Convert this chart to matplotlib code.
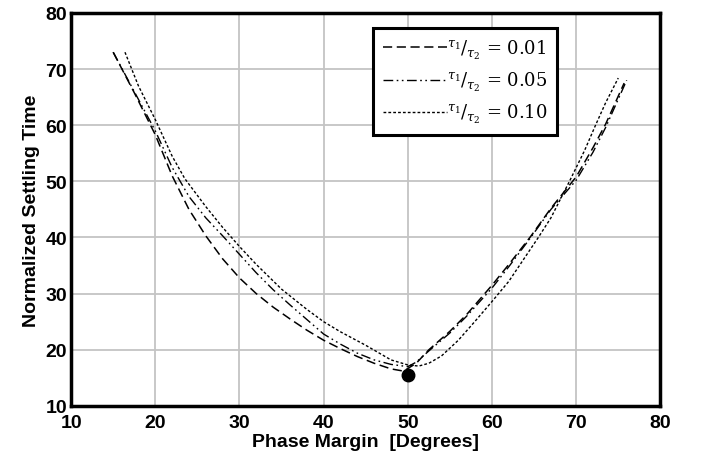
import matplotlib.pyplot as plt
from matplotlib import font_manager

# Datos
pm_001 = [15, 17.5, 20, 22, 24, 26, 28, 30, 32, 34, 36, 38, 40, 42, 44, 46, 48, 49.5,
          51, 52.5, 55, 57, 60, 62, 64.6, 67, 70, 72, 73.5, 75.7]
st_001 = [73, 65.8, 58.3, 51, 45, 40.3, 36.2, 32.8, 30, 27.6, 25.5, 23.5, 21.7, 20.2, 18.8, 17.6, 16.6, 16.2,
          17.6, 20, 23.3, 26.3, 31.5, 35.2, 40.2, 45.2, 50.8, 56, 60.2, 67.5]

pm_005 = [15, 17.5, 20, 22, 24, 26, 28, 30, 32, 34, 36, 38, 40, 42, 44, 46, 48, 50,
          51, 52.5, 55, 57, 60, 62, 64.6, 67, 70, 72, 73.5, 76]
st_005 = [73, 66, 59, 52.5, 47.3, 43.5, 40.3, 37, 33.7, 30.7, 28, 25.4, 22.8, 21, 19.4, 18.2, 17.4, 17,
          17.8, 19.8, 23, 26, 31, 34.8, 40, 45, 50.2, 55.2, 59.6, 68]

pm_010 = [16.4, 18, 20, 22, 23.5, 26, 28, 30, 32, 35, 38, 40, 42, 45, 48, 50, 51.3,
          52.5, 54, 56, 58, 60, 62, 65.5, 67, 69.2, 71, 72.3, 73.5, 75]
st_010 = [73, 67, 61, 54.5, 50.5, 45.5, 41.8, 38.4, 35.2, 30.8, 27.2, 25, 23.2, 20.8, 18.2, 17.3, 17.1,
          17.6, 18.9, 21.7, 25.1, 28.6, 32.2, 40, 43.5, 50, 55.5, 60, 64, 68.4]

punto_x = [50]
punto_y = [15.5]

xticks = [10, 20, 30, 40, 50, 60, 70, 80]
yticks = [10, 20, 30, 40, 50, 60, 70, 80]

nombres = [f.name for f in font_manager.fontManager.ttflist]
fuente = 'Liberation Sans Narrow' if 'Liberation Sans Narrow' in nombres else 'Liberation Sans'

plt.rcParams['font.family'] = [fuente, 'DejaVu Sans']
plt.rcParams['mathtext.fontset'] = 'dejavuserif'

fig = plt.figure(figsize=(7.04, 4.64), dpi=100)
ax = fig.add_axes([0.101, 0.123, 0.837, 0.847])

ax.plot(pm_001, st_001, color='black', lw=1.1, dashes=(6, 3),
        label=r'$^{\tau_1}/_{\tau_2}$ = 0.01')
ax.plot(pm_005, st_005, color='black', lw=1.0, dashes=(7, 2.5, 1.2, 2.5, 1.2, 2.5),
        label=r'$^{\tau_1}/_{\tau_2}$ = 0.05')
ax.plot(pm_010, st_010, color='black', lw=1.0, dashes=(2, 1.5),
        label=r'$^{\tau_1}/_{\tau_2}$ = 0.10')
ax.plot(punto_x, punto_y, 'o', color='black', ms=9)

ax.set_xlim(10, 80)
ax.set_ylim(10, 80)
ax.set_xticks(xticks)
ax.set_yticks(yticks)
ax.grid(True, color='#c4c4c4', lw=1.3)
ax.set_axisbelow(True)
for s in ax.spines.values():
    s.set_linewidth(2.5)
ax.tick_params(length=0, labelsize=14)
ax.tick_params(axis='x', pad=6)
ax.tick_params(axis='y', pad=3)
for t in ax.get_xticklabels() + ax.get_yticklabels():
    t.set_fontweight('bold')

ax.set_xlabel('Phase Margin  [Degrees]', fontsize=14, fontweight='bold', labelpad=1)
ax.set_ylabel('Normalized Settling Time', fontsize=14, fontweight='bold', labelpad=4)

leg = ax.legend(loc='upper left', bbox_to_anchor=(0.513, 0.962), borderaxespad=0,
                handlelength=3.5, handletextpad=0.0, labelspacing=0.5,
                borderpad=0.55, fancybox=False, framealpha=1,
                prop={'family': 'DejaVu Serif', 'size': 13})
leg.get_frame().set_edgecolor('black')
leg.get_frame().set_linewidth(2.2)

fig.savefig('out.png', dpi=100)
